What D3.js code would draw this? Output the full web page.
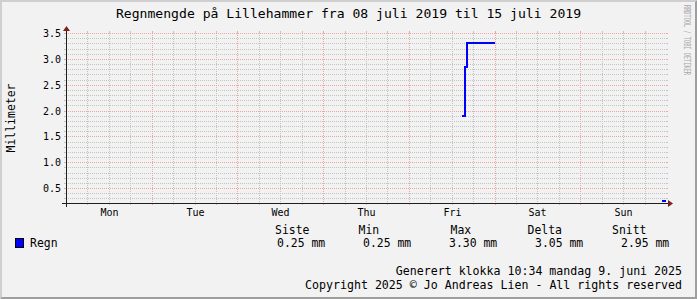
<!DOCTYPE html>
<html>
<head>
<meta charset="utf-8">
<script src="https://cdn.jsdelivr.net/npm/d3@7"></script>
<style>
    body { margin: 0; background: #f2f2f2; }
    svg { display: block; }
    text { font-family: "DejaVu Sans Mono", monospace; fill: #000; }
</style>
</head>
<body>
<script>
// data
const timeRange = ['2019-07-08 00:00', '2019-07-15 00:00'];
const valueRange = [0.21, 3.5];
const dayLabels = ['Mon', 'Tue', 'Wed', 'Thu', 'Fri', 'Sat', 'Sun'];
const yTickValues = [0.5, 1.0, 1.5, 2.0, 2.5, 3.0, 3.5];

// rain (mm), null = no data
const rainTimes = ['2019-07-12 15:00', '2019-07-12 15:45', '2019-07-12 16:20', '2019-07-13 00:00',
    '2019-07-13 00:20', '2019-07-14 22:50', '2019-07-15 00:00'];
const rainValues = [1.90, 2.85, 3.30, 3.30, null, 0.25, 0.25];

const statNames = ['Siste', 'Min', 'Max', 'Delta', 'Snitt'];
const statValues = [0.25, 0.25, 3.30, 3.05, 2.95];

const title = 'Regnmengde på Lillehammer fra 08 juli 2019 til 15 juli 2019';
const unitLabel = 'Millimeter';
const seriesName = 'Regn';
const footer = ['Generert klokka 10:34 mandag 9. juni 2025',
    'Copyright 2025 © Jo Andreas Lien - All rights reserved'];
const watermark = 'RRDTOOL / TOBI OETIKER';

// canvas
const width = 697;
const height = 299;

// plot area (rrdtool style origin)
const x0 = 66;
const y0 = 203;
const xsize = 600;
const ysize = 170;

const col = {
    back: '#f2f2f2',
    shadeA: '#cfcfcf',
    shadeB: '#9e9e9e',
    grid: '#c4c4c4',
    mgrid: '#eba6a6',
    axis: '#1f1f1f',
    arrow: '#801f1f',
    line: '#0000ff'
};

const parse = d3.timeParse('%Y-%m-%d %H:%M');

const svg = d3.select('body')
    .append('svg')
    .attr('width', width)
    .attr('height', height);

// background + 3d border
svg.append('rect')
    .attr('width', width)
    .attr('height', height)
    .attr('fill', col.back);

svg.append('path')
    .attr('d', `M0,${height}L2,${height - 2}L2,2L${width - 2},2L${width},0L0,0Z`)
    .attr('fill', col.shadeA);

svg.append('path')
    .attr('d', `M2,${height - 2}L${width - 2},${height - 2}L${width - 2},2L${width},0L${width},${height}L0,${height}Z`)
    .attr('fill', col.shadeB);

// scales
const xScale = d3.scaleTime()
    .domain(timeRange.map(parse))
    .range([x0, x0 + xsize])
    .interpolate(d3.interpolateRound);

const yScale = d3.scaleLinear()
    .domain(valueRange)
    .range([y0, y0 - ysize])
    .interpolate(d3.interpolateRound);

const x1 = x0 + xsize;
const y1 = y0 - ysize;

// grid
const grid = svg.append('g');
const majorY = yTickValues;
const minorY = yScale.ticks(33).filter(v => !majorY.some(m => Math.abs(m - v) < 1e-6));
const allHours = xScale.ticks(d3.timeHour.every(6)).slice(1, -1);
const majorX = allHours.filter(d => d.getHours() === 0);
const minorX = allHours.filter(d => d.getHours() !== 0);

function hLines(values, color) {
    const g = grid.append('g').attr('stroke', color).attr('stroke-width', 1);
    values.forEach(v => {
        const y = yScale(v) + 0.5;
        g.append('line').attr('x1', x0 - 2).attr('x2', x1 + 2).attr('y1', y).attr('y2', y)
            .attr('stroke-dasharray', '1,1');
        g.append('line').attr('x1', x0 - 2).attr('x2', x0).attr('y1', y).attr('y2', y);
        g.append('line').attr('x1', x1).attr('x2', x1 + 2).attr('y1', y).attr('y2', y);
    });
}

function vLines(values, color) {
    const g = grid.append('g').attr('stroke', color).attr('stroke-width', 1);
    values.forEach(d => {
        const x = xScale(d) + 0.5;
        g.append('line').attr('x1', x).attr('x2', x).attr('y1', y1 - 2).attr('y2', y0 + 2)
            .attr('stroke-dasharray', '1,1');
        g.append('line').attr('x1', x).attr('x2', x).attr('y1', y0).attr('y2', y0 + 2);
        g.append('line').attr('x1', x).attr('x2', x).attr('y1', y1 - 2).attr('y2', y1);
    });
}

hLines(minorY, col.grid);
vLines(minorX, col.grid);
hLines(majorY, col.mgrid);
vLines(majorX, col.mgrid);

// rain line
const rain = rainTimes.map((t, i) => ({ time: parse(t), value: rainValues[i] }));

const linePath = d3.line()
    .defined(d => d.value !== null)
    .x(d => xScale(d.time))
    .y(d => yScale(d.value))
    .curve(d3.curveStepAfter);

svg.append('path')
    .datum(rain)
    .attr('d', linePath)
    .attr('fill', 'none')
    .attr('stroke', col.line)
    .attr('stroke-width', 2);

// axes lines + arrows
svg.append('line')
    .attr('x1', x0 - 4).attr('x2', x1 + 4)
    .attr('y1', y0 + 0.5).attr('y2', y0 + 0.5)
    .attr('stroke', col.axis);

svg.append('line')
    .attr('x1', x0 + 0.5).attr('x2', x0 + 0.5)
    .attr('y1', y0 + 4).attr('y2', y1 - 4)
    .attr('stroke', col.axis);

svg.append('path')
    .attr('d', `M${x1 + 2},${y0 - 3}L${x1 + 2},${y0 + 4}L${x1 + 7},${y0 + 0.5}Z`)
    .attr('fill', col.arrow);

svg.append('path')
    .attr('d', `M${x0 - 3},${y1 - 2}L${x0 + 4},${y1 - 2}L${x0 + 0.5},${y1 - 7}Z`)
    .attr('fill', col.arrow);

// y labels
const yAxis = d3.axisLeft(yScale)
    .tickValues(yTickValues)
    .tickFormat(d3.format('.1f'))
    .tickSize(0)
    .tickPadding(5);

svg.append('g')
    .attr('transform', 'translate(' + x0 + ', 0)')
    .call(yAxis)
    .call(g => g.select('.domain').remove())
    .call(g => g.selectAll('text')
        .attr('font-family', '"DejaVu Sans Mono", monospace')
        .attr('font-size', 10)
        .attr('dy', '0.36em'));

// x labels (day names at noon)
const noons = d3.timeDay.range(xScale.domain()[0], xScale.domain()[1]).map(d => d3.timeHour.offset(d, 12));

const xAxis = d3.axisBottom(xScale)
    .tickValues(noons)
    .tickFormat((d, i) => dayLabels[i])
    .tickSize(0)
    .tickPadding(6);

svg.append('g')
    .attr('transform', 'translate(0, ' + y0 + ')')
    .call(xAxis)
    .call(g => g.select('.domain').remove())
    .call(g => g.selectAll('text')
        .attr('font-family', '"DejaVu Sans Mono", monospace')
        .attr('font-size', 10));

// title
svg.append('text')
    .attr('x', width / 2)
    .attr('y', 18)
    .attr('text-anchor', 'middle')
    .attr('font-size', 13.1)
    .text(title);

// unit label
svg.append('text')
    .attr('transform', 'translate(15, ' + (y0 - ysize / 2) + ') rotate(-90)')
    .attr('text-anchor', 'middle')
    .attr('font-size', 11.45)
    .text(unitLabel);

// watermark
svg.append('text')
    .attr('transform', 'translate(684, 5) rotate(90)')
    .attr('font-size', 9)
    .style('fill', '#a9a9a9')
    .attr('textLength', 70)
    .attr('lengthAdjust', 'spacingAndGlyphs')
    .text(watermark);

// legend
svg.append('rect')
    .attr('x', 15.5).attr('y', 238.5)
    .attr('width', 8).attr('height', 9)
    .attr('fill', col.line)
    .attr('stroke', '#000');

svg.append('text')
    .attr('x', 30)
    .attr('y', 247)
    .attr('font-size', 11.45)
    .text(seriesName);

const headerX = [275, 358.5, 450.5, 527.5, 612];
const valueX = [277, 363, 449, 535, 621];

svg.selectAll('text.head')
    .data(statNames)
    .enter()
    .append('text')
    .attr('class', 'head')
    .attr('x', (d, i) => headerX[i])
    .attr('y', 234)
    .attr('font-size', 11.45)
    .text(d => d);

svg.selectAll('text.stat')
    .data(statValues)
    .enter()
    .append('text')
    .attr('class', 'stat')
    .attr('x', (d, i) => valueX[i])
    .attr('y', 247)
    .attr('font-size', 11.45)
    .text(d => d3.format('.2f')(d) + ' mm');

// footer
svg.selectAll('text.foot')
    .data(footer)
    .enter()
    .append('text')
    .attr('class', 'foot')
    .attr('x', 682)
    .attr('y', (d, i) => 275 + i * 14)
    .attr('text-anchor', 'end')
    .attr('font-size', 11.6)
    .text(d => d);
</script>
</body>
</html>
